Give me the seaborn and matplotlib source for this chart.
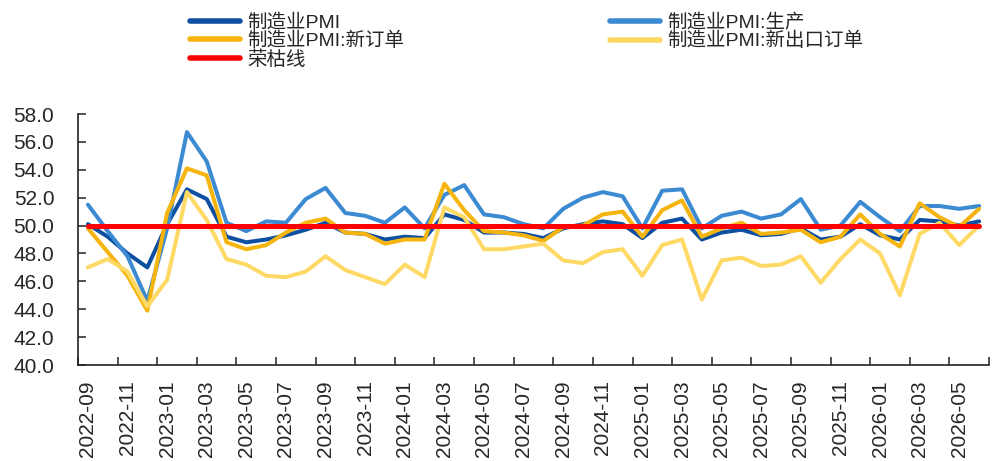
import numpy as np
import pandas as pd
import matplotlib
matplotlib.use("Agg")
import matplotlib.pyplot as plt
import seaborn as sns
from matplotlib.ticker import FixedLocator, FormatStrFormatter

# 月份（2022-09 至 2026-06）
months = list(pd.date_range("2022-09-01", periods=46, freq="MS").strftime("%Y-%m"))

pmi = [50.1, 49.2, 48.0, 47.0,
       50.1, 52.6, 51.9, 49.2, 48.8, 49.0, 49.3, 49.7, 50.2, 49.5, 49.4, 49.0,
       49.2, 49.1, 50.8, 50.4, 49.5, 49.5, 49.4, 49.1, 49.8, 50.1, 50.3, 50.1,
       49.1, 50.2, 50.5, 49.0, 49.5, 49.7, 49.3, 49.4, 49.8, 49.0, 49.2, 50.1,
       49.3, 49.0, 50.4, 50.3, 50.0, 50.3]

production = [51.5, 49.6, 47.8, 44.6,
              49.8, 56.7, 54.6, 50.2, 49.6, 50.3, 50.2, 51.9, 52.7, 50.9, 50.7, 50.2,
              51.3, 49.8, 52.2, 52.9, 50.8, 50.6, 50.1, 49.8, 51.2, 52.0, 52.4, 52.1,
              49.8, 52.5, 52.6, 49.8, 50.7, 51.0, 50.5, 50.8, 51.9, 49.7, 50.0, 51.7,
              50.6, 49.6, 51.4, 51.4, 51.2, 51.4]

new_orders = [49.8, 48.1, 46.4, 43.9,
              50.9, 54.1, 53.6, 48.8, 48.3, 48.6, 49.5, 50.2, 50.5, 49.5, 49.4, 48.7,
              49.0, 49.0, 53.0, 51.1, 49.6, 49.5, 49.3, 48.9, 49.9, 50.0, 50.8, 51.0,
              49.2, 51.1, 51.8, 49.2, 49.8, 50.2, 49.4, 49.5, 49.7, 48.8, 49.2, 50.8,
              49.4, 48.5, 51.6, 50.6, 49.9, 51.2]

export_orders = [47.0, 47.6, 46.7, 44.2,
                 46.1, 52.4, 50.4, 47.6, 47.2, 46.4, 46.3, 46.7, 47.8, 46.8, 46.3, 45.8,
                 47.2, 46.3, 51.3, 50.6, 48.3, 48.3, 48.5, 48.7, 47.5, 47.3, 48.1, 48.3,
                 46.4, 48.6, 49.0, 44.7, 47.5, 47.7, 47.1, 47.2, 47.8, 45.9, 47.6, 49.0,
                 48.0, 45.0, 49.4, 50.2, 48.6, 50.0]

# 荣枯线
rongku = [50.0] * len(months)

sns.set_style("ticks")
plt.rcParams["font.family"] = ["Liberation Sans", "Noto Sans CJK SC", "DejaVu Sans"]

fig = plt.figure(figsize=(9.95, 4.61), dpi=100)
ax = fig.add_axes([78 / 995, 96 / 461, 911 / 995, 251 / 461])

x = np.arange(len(months))
series = [
    ("制造业PMI", pmi, "#0D4FA0", 2.9),
    ("制造业PMI:生产", production, "#3C8AD2", 2.9),
    ("制造业PMI:新订单", new_orders, "#F6B40E", 2.9),
    ("制造业PMI:新出口订单", export_orders, "#FFD966", 2.9),
    ("荣枯线", rongku, "#FF0000", 3.6),
]
handles = {}
for name, vals, color, lw in series:
    sns.lineplot(x=x, y=vals, ax=ax, color=color, linewidth=lw, label=name,
                 solid_capstyle="round", solid_joinstyle="round", sort=False)
    handles[name] = ax.get_lines()[-1]
ax.get_legend().remove()

# 坐标轴
ax.set_xlim(-0.5, len(months) - 0.5)
ax.set_ylim(40, 58)
ax.set_yticks(np.arange(40, 58.1, 2))
ax.yaxis.set_major_formatter(FormatStrFormatter("%.1f"))
ax.set_xticks(x[::2])
ax.set_xticklabels(months[::2], rotation=90)
ax.xaxis.set_minor_locator(FixedLocator(np.arange(-0.5, len(months), 2)))
ax.tick_params(axis="x", which="major", length=0, pad=11, labelsize=15)
ax.tick_params(axis="x", which="minor", direction="in", length=6, width=1.2, color="#333333")
ax.tick_params(axis="y", direction="in", length=6, width=1.2, color="#333333",
               pad=17, labelsize=15)
for s in ["top", "right"]:
    ax.spines[s].set_visible(False)
for s in ["left", "bottom"]:
    ax.spines[s].set_linewidth(1.2)
    ax.spines[s].set_color("#222222")
ax.set_xlabel("")
ax.set_ylabel("")

# 图例
left_names = ["制造业PMI", "制造业PMI:新订单", "荣枯线"]
right_names = ["制造业PMI:生产", "制造业PMI:新出口订单"]
leg_kw = dict(loc="upper left", frameon=False, fontsize=14, borderpad=0,
              handlelength=2.6, handletextpad=0.35, labelspacing=0.0)
leg1 = fig.legend([handles[n] for n in left_names], left_names,
                  bbox_to_anchor=(180 / 995, 1 - 4 / 461), **leg_kw)
leg2 = fig.legend([handles[n] for n in right_names], right_names,
                  bbox_to_anchor=(600 / 995, 1 - 4 / 461), **leg_kw)
for leg in (leg1, leg2):
    for h in leg.legend_handles:
        h.set_linewidth(4.0)

fig.savefig("out.png", dpi=100)
